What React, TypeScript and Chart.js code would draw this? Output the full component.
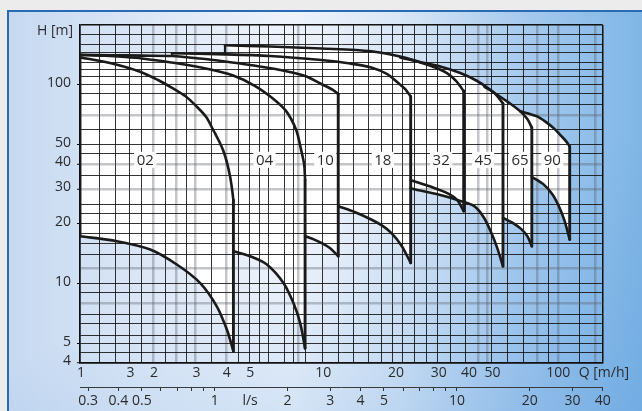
import React, { useEffect, useRef } from 'react';
import { Chart, registerables } from 'chart.js';

Chart.register(...registerables);

// ---- Pump series (Q in m3/h, H in m) ----
const PUMP_NAMES = ['02', '04', '10', '18', '32', '45', '65', '90'];
const LABEL_Q = [1.86, 5.78, 10.3, 17.8, 31.0, 46.2, 65.6, 89.2];
const LABEL_H = 42;

const TOP_02 = [[1, 137.6], [1.33, 128.8], [1.77, 116.5], [2.1, 105.8], [2.42, 96], [2.72, 87.9], [3.04, 77.6], [3.32, 68.9], [3.55, 59.3], [3.75, 52.2], [3.91, 46.5], [4.05, 40.4], [4.17, 34.4], [4.25, 29.6], [4.3, 26.3]];
const BOT_02 = [[1, 17.36], [1.42, 16.38], [1.95, 14.88], [2.51, 12.51], [3.13, 10.11], [3.67, 7.71], [4.04, 5.89], [4.3, 4.58]];
const TOP_04 = [[1, 141.3], [1.27, 140], [1.54, 138], [1.8, 135.7], [2.47, 128.8], [3.38, 120.2], [4.29, 111.4], [5.29, 98.7], [6.22, 85.9], [7.1, 73.8], [7.81, 59.3], [8.19, 47], [8.43, 39.5], [8.5, 33.2]];
const BOT_04 = [[4.3, 14.59], [5.04, 13.77], [5.91, 12.51], [6.92, 10.11], [7.61, 8.01], [8.11, 6.36], [8.5, 4.74]];
const TOP_10 = [[1, 141.8], [1.33, 141], [1.8, 140.3], [2.4, 139.7], [3.13, 135.7], [3.97, 131.1], [5.04, 125.9], [6.71, 118.8], [8.51, 110.8], [9.91, 101], [11.1, 94.2], [11.65, 89.9]];
const BOT_10 = [[8.5, 17.36], [9.18, 16.77], [9.91, 16.07], [10.79, 15.11], [11.65, 13.77]];
const TOP_18 = [[2.4, 144.1], [3.97, 142.4], [6.1, 139.7], [9.91, 133.3], [13.05, 128], [15.94, 122.3], [18.56, 113.4], [20.51, 102.7], [22.03, 95.3], [23.2, 87.4]];
const BOT_18 = [[11.65, 24.57], [13.69, 22.92], [15.94, 21.06], [17.7, 19.6], [19.28, 18.04], [21.21, 15.64], [23.2, 12.74]];
const TOP_32 = [[21.01, 137.3], [25.41, 129.5], [29.3, 122.3], [32.75, 114.7], [35.78, 104.5], [38.4, 93.1]];
const BOT_32 = [[23.2, 33.2], [28.2, 30.73], [33.17, 28.4], [36.13, 26.33], [38.4, 23.19]];
const TOP_45 = [[3.97, 158.1], [6.1, 155.9], [9.91, 152.3], [15.94, 147.6], [21.01, 138.8], [24.93, 131.1], [30.73, 123.7], [37.18, 114.7], [43.29, 105.2], [49.45, 94.5], [52.86, 87.9], [55.8, 80.6]];
const BOT_45 = [[23.2, 30.17], [31.02, 27.91], [36.93, 26.19], [42.48, 24.57], [46.71, 21.38], [49.93, 18.04], [52.86, 15.11], [55.8, 12.26]];
const TOP_65 = [[46.71, 98.1], [51.86, 90.5], [57.99, 82.6], [65.8, 73.6], [70.33, 67.3], [73.4, 61]];
const BOT_65 = [[55.8, 21.46], [60.98, 20.29], [66.42, 18.83], [70.33, 17.36], [73.4, 15.46]];
const TOP_90 = [[65.8, 73.6], [71, 71.75], [77.14, 69.46], [83.47, 65.4], [90.33, 60.65], [97.19, 55.27], [101.9, 51.88], [105.2, 49.07]];
const BOT_90 = [[73.4, 34.51], [81.89, 31.71], [89.22, 28.23], [94.45, 24.86], [100, 20.89], [105.2, 16.71]];

const EDGE_02 = [[1, 17.36], [1, 141.8]];
const STEP_18 = [[2.4, 139.7], [2.4, 144.1]];
const STEP_45 = [[3.97, 142.4], [3.97, 158.1]];

// ---- Axes ----
const Q_RANGE = [1, 144];
const H_RANGE = [4, 200];
const M3H_PER_LS = 3.6;

const Q_TICK_VALUES = [1, 1.6, 2, 3, 4, 5, 10, 20, 30, 40, 50, 100];
const Q_TICK_LABELS = ['1', '3', '2', '3', '4', '5', '10', '20', '30', '40', '50', '100\u2002\u2002'];
const LS_TICK_VALUES = [0.3, 0.4, 0.5, 1, 1.4, 2, 3, 4, 5, 10, 20, 30, 40];
const LS_TICK_LABELS = ['0.3', '0.4', '0.5', '1', 'l/s', '2', '3', '4', '5', '10', '20', '30', '40'];
const LS_MARKS = [0.3, 0.4, 0.5, 0.6, 0.7, 0.8, 0.9, 1, 2, 3, 4, 5, 6, 7, 8, 9, 10, 20, 30, 40];
const H_TICK_VALUES = [4, 5, 10, 20, 30, 40, 50, 100];
const H_TICK_LABELS = ['4', '5', '10', '20', '30', '40', '50', '100'];

const Q_GRID_BLACK = [1.2, 1.4, 1.6, 1.8, 2.25, 2.75, 3.5, 4.5, 5, 5.5, 6, 7, 7.6, 8.5, 10, 11.7, 13.5, 15.5, 17.5, 19.5, 21.5, 24, 27, 30, 34, 39, 50, 58, 68, 86, 115];
const Q_GRID_GRAY = [2, 2.5, 3, 4, 8, 44, 48, 77, 94, 134];
const H_GRID_BLACK = [4.5, 5, 5.5, 6.3, 7, 9, 10, 14, 16, 18, 20, 22.5, 25, 35, 45, 50, 60, 80, 90, 100, 110, 120, 130, 145, 160, 180];
const H_GRID_GRAY = [8, 12, 30, 40, 70];

const FONT = "'Open Sans', 'Noto Sans', sans-serif";
const TEXT = '#2b2b2b';
const INK = '#1a1a1a';

const near = (list: number[], v: any) =>
  typeof v === 'number' && list.some((q) => Math.abs(q - v) < 1e-6 * Math.max(1, q));
const labelFor = (vals: number[], labels: string[], v: number) => {
  const i = vals.findIndex((q) => Math.abs(q - v) < 1e-6 * Math.max(1, q));
  return i >= 0 ? labels[i] : '';
};
const uniqSorted = (...lists: number[][]) =>
  Array.from(new Set(lists.flat())).sort((a, b) => a - b);
const toXY = (pts: number[][]) => pts.map(([x, y]) => ({ x, y }));

const gridStyle = (black: number[], gray: number[], edges: number[]) => ({
  color: (c: any) => {
    const v = c.tick ? c.tick.value : undefined;
    if (near(edges, v)) return '#111111';
    if (near(gray, v)) return 'rgba(90,95,105,0.36)';
    if (near(black, v)) return 'rgba(15,15,15,0.85)';
    return 'rgba(0,0,0,0)';
  },
  lineWidth: (c: any) => {
    const v = c.tick ? c.tick.value : undefined;
    if (near(edges, v)) return 1.5;
    if (near(gray, v)) return 2.5;
    if (near(black, v)) return 1;
    return 0;
  },
});

const pumpLabels = {
  id: 'pumpLabels',
  beforeDatasetsDraw(chart: any) {
    const { ctx, scales } = chart;
    ctx.save();
    ctx.font = `15px ${FONT}`;
    ctx.textAlign = 'center';
    ctx.textBaseline = 'middle';
    PUMP_NAMES.forEach((name, i) => {
      const px = scales.x.getPixelForValue(LABEL_Q[i]);
      const py = scales.y.getPixelForValue(LABEL_H);
      const w = ctx.measureText(name).width + 5;
      ctx.fillStyle = '#ffffff';
      ctx.fillRect(px - w / 2, py - 8, w, 16);
      ctx.fillStyle = TEXT;
      ctx.fillText(name, px, py + 0.5);
    });
    ctx.restore();
  },
};

const axisTitles = {
  id: 'axisTitles',
  afterDraw(chart: any) {
    const { ctx, chartArea } = chart;
    ctx.save();
    ctx.font = `14px ${FONT}`;
    ctx.fillStyle = TEXT;
    ctx.textBaseline = 'middle';
    ctx.textAlign = 'right';
    ctx.fillText('H [m]', chartArea.left - 7, chartArea.top + 6);
    ctx.textAlign = 'left';
    ctx.fillText('Q [m/h]', chartArea.right - 24, chartArea.bottom + 10);
    ctx.restore();
  },
};

export default function App() {
  const ref = useRef<HTMLCanvasElement>(null);

  useEffect(() => {
    const canvas = ref.current;
    if (!canvas) return;
    const tops = [TOP_02, TOP_04, TOP_10, TOP_18, TOP_32, TOP_45, TOP_65, TOP_90];
    const bots = [BOT_02, BOT_04, BOT_10, BOT_18, BOT_32, BOT_45, BOT_65, BOT_90];

    const fills = tops.map((t, i) => ({
      label: `fill ${PUMP_NAMES[i]}`,
      data: toXY([...t, ...bots[i].slice().reverse()]),
      fill: 'shape',
      backgroundColor: '#ffffff',
      borderColor: 'rgba(0,0,0,0)',
      borderWidth: 0,
      pointRadius: 0,
      tension: 0,
      order: 10,
    }));

    const curve = (pts: number[][], w = 2.6, tension = 0.3) => ({
      data: toXY(pts),
      fill: false,
      borderColor: INK,
      borderWidth: w,
      pointRadius: 0,
      tension,
      borderCapStyle: 'round',
      borderJoinStyle: 'round',
      order: 1,
    });

    const outlines: any[] = [];
    tops.forEach((t, i) => {
      const b = bots[i];
      outlines.push(curve(t));
      outlines.push(curve(b));
      outlines.push(curve([t[t.length - 1], b[b.length - 1]], 2.9, 0));
    });
    outlines.push(curve(EDGE_02, 2.9, 0), curve(STEP_18, 2.2, 0), curve(STEP_45, 2.2, 0));

    const xTicks = uniqSorted(Q_GRID_BLACK, Q_GRID_GRAY, Q_TICK_VALUES, Q_RANGE);
    const yTicks = uniqSorted(H_GRID_BLACK, H_GRID_GRAY, H_TICK_VALUES, H_RANGE);
    const lsTicks = uniqSorted(LS_MARKS, LS_TICK_VALUES);

    const chart = new Chart(canvas, {
      type: 'line',
      data: { datasets: [...fills, ...outlines] as any },
      options: {
        responsive: false,
        animation: false,
        devicePixelRatio: 1,
        events: [],
        layout: { padding: { left: 0, top: 25, right: 39.3, bottom: 0 } },
        plugins: {
          legend: { display: false },
          tooltip: { enabled: false },
          filler: { drawTime: 'beforeDraw', propagate: false },
        } as any,
        scales: {
          x: {
            type: 'logarithmic',
            position: 'bottom',
            min: Q_RANGE[0],
            max: Q_RANGE[1],
            weight: 0,
            afterBuildTicks: (s: any) => { s.ticks = xTicks.map((v) => ({ value: v })); },
            afterFit: (s: any) => { s.height = 24; },
            grid: { ...gridStyle(Q_GRID_BLACK, Q_GRID_GRAY, Q_RANGE), drawTicks: false },
            border: { display: true, color: '#111111', width: 1.5 },
            ticks: {
              autoSkip: false,
              maxRotation: 0,
              padding: 2,
              labelOffset: 1,
              color: TEXT,
              font: { family: FONT, size: 14 },
              callback: (v: any) => labelFor(Q_TICK_VALUES, Q_TICK_LABELS, Number(v)),
            },
          },
          x2: {
            type: 'logarithmic',
            position: 'bottom',
            min: Q_RANGE[0] / M3H_PER_LS,
            max: Q_RANGE[1] / M3H_PER_LS,
            weight: 1,
            afterBuildTicks: (s: any) => { s.ticks = lsTicks.map((v) => ({ value: v })); },
            afterFit: (s: any) => { s.height = 24; },
            grid: {
              drawOnChartArea: false,
              drawTicks: true,
              tickLength: 4,
              tickWidth: 1,
              tickColor: (c: any) => (near(LS_MARKS, c.tick ? c.tick.value : undefined) ? '#333333' : 'rgba(0,0,0,0)'),
            },
            border: { display: true, color: '#3a3a3a', width: 1 },
            ticks: {
              autoSkip: false,
              maxRotation: 0,
              padding: 2,
              color: TEXT,
              font: { family: FONT, size: 14 },
              callback: (v: any) => labelFor(LS_TICK_VALUES, LS_TICK_LABELS, Number(v)),
            },
          },
          y: {
            type: 'logarithmic',
            position: 'left',
            min: H_RANGE[0],
            max: H_RANGE[1],
            afterBuildTicks: (s: any) => { s.ticks = yTicks.map((v) => ({ value: v })); },
            afterFit: (s: any) => { s.width = 80; },
            grid: {
              ...gridStyle(H_GRID_BLACK, H_GRID_GRAY, H_RANGE),
              drawTicks: true,
              tickLength: 3,
              tickWidth: 1.2,
              tickColor: (c: any) => (near(H_TICK_VALUES, c.tick ? c.tick.value : undefined) ? '#111111' : 'rgba(0,0,0,0)'),
            },
            border: { display: true, color: '#111111', width: 1.5 },
            ticks: {
              autoSkip: false,
              padding: 6,
              labelOffset: -2,
              color: TEXT,
              font: { family: FONT, size: 14 },
              callback: (v: any) => labelFor(H_TICK_VALUES, H_TICK_LABELS, Number(v)),
            },
          },
        } as any,
      },
      plugins: [pumpLabels, axisTitles],
    });

    return () => chart.destroy();
  }, []);

  return (
    <div style={{ position: 'fixed', left: 0, top: 0, width: 642, height: 411, overflow: 'hidden', background: '#ececec' }}>
      <div
        style={{
          position: 'absolute',
          left: 7,
          top: 10,
          width: 633,
          height: 399,
          borderTop: '2px solid #2a69b3',
          borderLeft: '2px solid #2a69b3',
          background:
            'linear-gradient(160deg, rgba(255,255,255,0) 55%, rgba(80,150,220,0.3) 100%), linear-gradient(90deg, #c6d9f1 0%, #dfe9f7 25%, #eef3fb 45%, #d8e6f6 62%, #a9cbee 80%, #7fb6e6 100%)',
        }}
      />
      <canvas ref={ref} width={642} height={411} style={{ position: 'absolute', left: 0, top: 0, width: 642, height: 411 }} />
    </div>
  );
}
